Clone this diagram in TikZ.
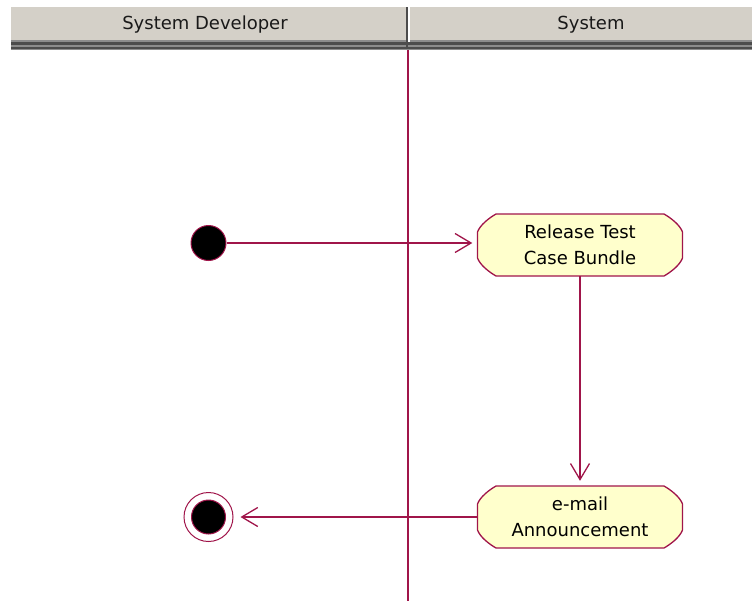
\documentclass[tikz,border=0pt]{standalone}
\usepackage{fontspec}
\setmainfont{DejaVu Sans}
\usetikzlibrary{arrows.meta}
\definecolor{lc}{HTML}{A0154A}
\definecolor{boxfill}{HTML}{FFFFCC}
\definecolor{hdr}{HTML}{D4D0C8}
\tikzset{
  actshape/.pic={
    \draw[draw=lc, fill=boxfill, line width=1.3pt]
      (-84,-31) -- (84,-31) .. controls (91,-27) and (100,-20) .. (102.5,-13) -- (102.5,13)
      .. controls (100,20) and (91,27) .. (84,31) -- (-84,31)
      .. controls (-91,27) and (-100,20) .. (-102.5,13) -- (-102.5,-13)
      .. controls (-100,-20) and (-91,-27) .. (-84,-31) -- cycle;
  },
  activity/.style={rectangle, minimum width=205pt, minimum height=62pt,
    inner sep=0pt, align=center, font=\fontsize{18}{26}\selectfont},
  hdrtext/.style={font=\fontsize{18}{22}\selectfont, text=black!90},
  flow/.style={draw=lc, line width=1.6pt, -{Straight Barb[length=16pt,width=19pt,line width=1.3pt]}},
  startnode/.style={circle, minimum size=35pt, inner sep=0pt, fill=black, draw=lc, line width=1pt},
  endnode/.style={circle, minimum size=49pt, inner sep=0pt, draw=lc, line width=1pt,
    path picture={\filldraw[fill=black,draw=lc,line width=1pt] (path picture bounding box.center) circle (17pt);}}
}
\begin{document}
\begin{tikzpicture}[x=1pt,y=-1pt]
\useasboundingbox (0,0) rectangle (752,603);
% header
\fill[hdr] (11,7) rectangle (752,40);
\fill[black!45] (11,40) rectangle (752,50);
\fill[black!70] (11,42) rectangle (752,44.5);
\fill[black!70] (11,46.5) rectangle (752,48.5);
\fill[black!70] (405.5,7) rectangle (408,47);
\fill[white] (408,7) rectangle (410,42);
\node[hdrtext] (h1) at (205,25) {System Developer};
\node[hdrtext] (h2) at (591,25) {System};
% swimlane divider
\coordinate (lt) at (408,50);
\coordinate (lb) at (408,601);
\draw[lc, line width=1.6pt] (lt) -- (lb);
% activity shapes
\pic at (580,245) {actshape};
\pic at (580,517) {actshape};
% nodes
\node[startnode] (init) at (208.5,243) {};
\node[activity] (r1) at (580,245) {Release Test\\Case Bundle};
\node[activity] (r2) at (580,517) {e-mail\\Announcement};
\node[endnode] (final) at (208.5,517) {};
% connectors
\draw[flow, shorten >=5pt] (init) -- (r1.west |- init);
\draw[flow, shorten >=5pt] (r1.south) -- (r2.north);
\draw[flow, shorten >=7pt] (r2.west) -- (final);
\end{tikzpicture}
\end{document}
